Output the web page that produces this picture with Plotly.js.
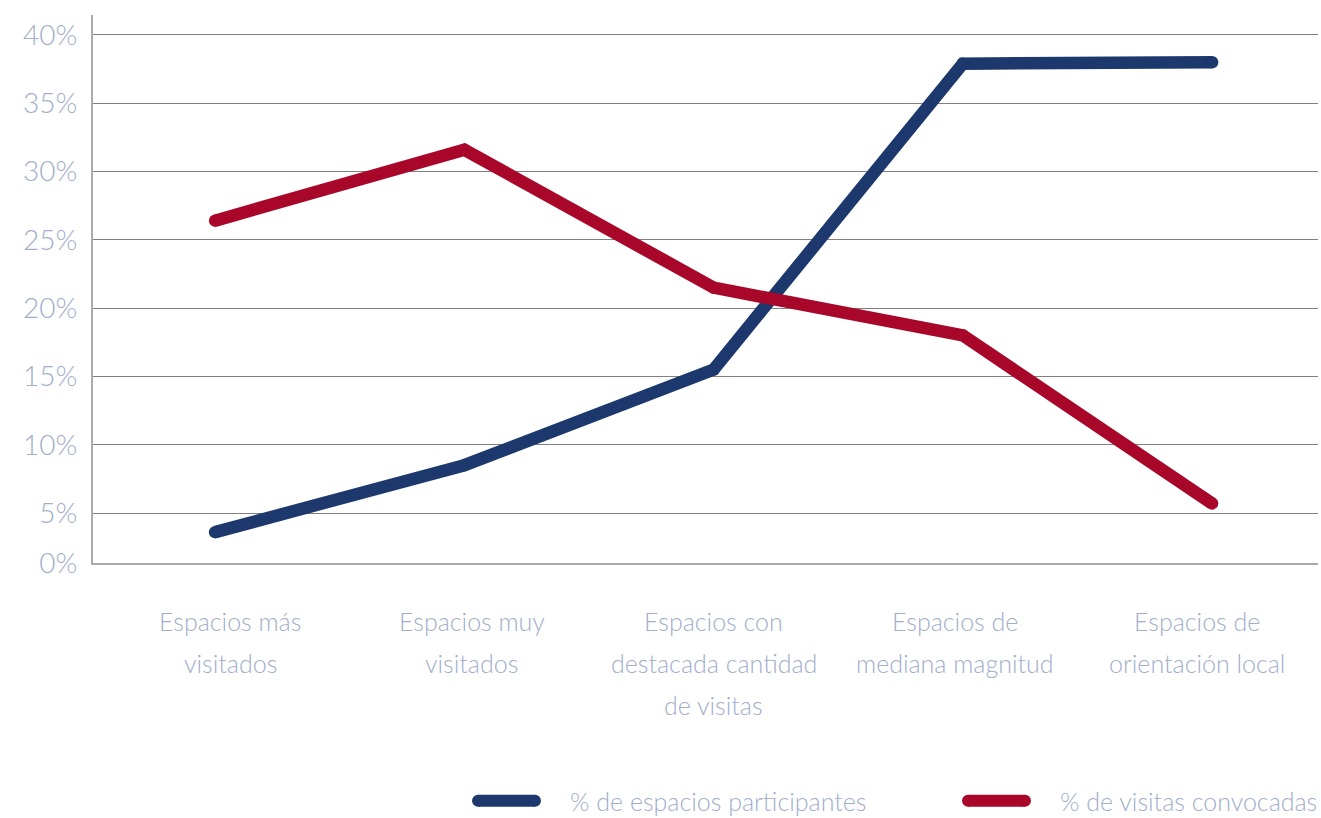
<!DOCTYPE html>
<html>
<head>
<meta charset="utf-8">
<script src="https://cdn.plot.ly/plotly-3.0.1.min.js"></script>
<style>html,body{margin:0;padding:0;background:#fff;}#chart{width:1321px;height:818px;}</style>
</head>
<body>
<div id="chart"></div>
<script>
const categories = [
  "Espacios más<br>visitados",
  "Espacios muy<br>visitados",
  "Espacios con<br>destacada cantidad<br>de visitas",
  "Espacios de<br>mediana magnitud",
  "Espacios de<br>orientación local"
];
const seriesNames = ["% de espacios participantes", "% de visitas convocadas"];
const espaciosParticipantes = [3.6, 8.5, 15.5, 37.9, 38.0];
const visitasConvocadas = [26.4, 31.6, 21.5, 18.0, 5.7];
const yTickVals = [1.34, 5, 10, 15, 20, 25, 30, 35, 40];
const yTickText = ["0%", "5%", "10%", "15%", "20%", "25%", "30%", "35%", "40%"];

const FONT = "Lato, 'Open Sans', sans-serif";
const TXT = "#a1aeca";
const COLORS = ["#1c386c", "#a8072a"];

const idx = categories.map((_, i) => i);
const seriesData = [espaciosParticipantes, visitasConvocadas];

const traces = seriesData.map((d, k) => ({
  x: idx, y: d, name: seriesNames[k], type: "scatter", mode: "lines+markers",
  line: {color: COLORS[k], width: 12.5}, marker: {color: COLORS[k], size: 12.5}, showlegend: false
}));

// category labels, one annotation per line
const labelRange = [-0.567, 4.5];
const annotations = [];
const shapes = [];
categories.forEach((c, i) => {
  const xp = (i - labelRange[0]) / (labelRange[1] - labelRange[0]);
  c.split("<br>").forEach((ln, j) => {
    annotations.push({text: ln, xref: "paper", yref: "paper", x: xp, y: 0,
      xanchor: "center", yanchor: "middle", yshift: -58 - 42 * j, showarrow: false,
      font: {family: FONT, size: 25, color: TXT, weight: 300}});
  });
});

// manual legend
const legY = -0.434;
const legX = [0.3143, 0.7143];
const symW = 0.0465;
seriesNames.forEach((nm, k) => {
  const x0 = legX[k], x1 = legX[k] + symW;
  shapes.push({type: "line", xref: "paper", yref: "paper", x0: x0, x1: x1, y0: legY, y1: legY,
    line: {color: COLORS[k], width: 12}});
  [x0, x1].forEach(xx => shapes.push({type: "circle", xref: "paper", yref: "paper",
    xsizemode: "pixel", ysizemode: "pixel", xanchor: xx, yanchor: legY,
    x0: -6, x1: 6, y0: -6, y1: 6, fillcolor: COLORS[k], line: {width: 0}}));
  annotations.push({text: nm, xref: "paper", yref: "paper", x: x1 + 0.027, y: legY,
    xanchor: "left", yanchor: "middle", showarrow: false,
    font: {family: FONT, size: 25, color: TXT, weight: 300}});
});

const layout = {
  width: 1321, height: 818,
  margin: {l: 93, r: 3, t: 15, b: 255},
  paper_bgcolor: "#fff", plot_bgcolor: "#fff",
  font: {family: FONT, color: TXT, weight: 300},
  showlegend: false,
  xaxis: {range: [-0.49, 4.425], showgrid: false, zeroline: false, showticklabels: false,
    showline: true, linecolor: "#aaaaaa", linewidth: 2, ticks: "", fixedrange: true},
  yaxis: {range: [1.34, 41.46], tickmode: "array", tickvals: yTickVals, ticktext: yTickText,
    showgrid: true, gridcolor: "#808080", gridwidth: 1, zeroline: false,
    showline: true, linecolor: "#aaaaaa", linewidth: 2, ticks: "", ticklabelstandoff: 8,
    tickfont: {family: FONT, size: 28, color: TXT, weight: 300}},
  annotations: annotations,
  shapes: shapes
};

Plotly.newPlot("chart", traces, layout, {displayModeBar: false, staticPlot: true});
</script>
</body>
</html>
